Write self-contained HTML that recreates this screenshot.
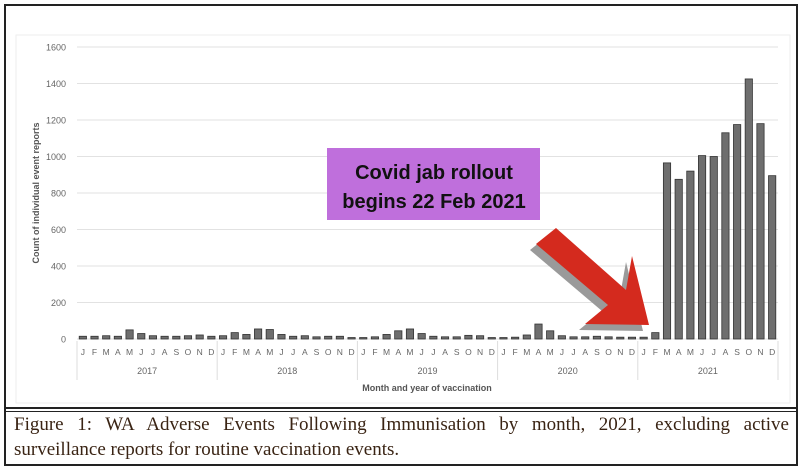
<!DOCTYPE html>
<html><head><meta charset="utf-8"><style>
body{margin:0;background:#fff;width:801px;height:468px;overflow:hidden;font-family:"Liberation Sans",sans-serif}
#frame{position:absolute;left:4px;top:4px;width:790px;height:458px;border:2px solid #222}
#sep{position:absolute;left:4px;top:407px;width:794px;height:2px;border-top:2px solid #222;border-bottom:1px solid #222}
#cap{position:absolute;left:14px;top:412px;width:775px;font-family:"Liberation Serif",serif;font-size:19px;line-height:25px;color:#3a2414}
#cap .l1{display:block;text-align:justify;text-align-last:justify;white-space:nowrap}
#cap .l2{display:block}
</style></head><body>
<div id="frame"></div>
<svg id="chart" width="801" height="408" style="position:absolute;left:0;top:0"></svg>
<div id="sep"></div>
<div id="cap"><span class="l1">Figure 1: WA Adverse Events Following Immunisation by month, 2021, excluding active</span><span class="l2">surveillance reports for routine vaccination events.</span></div>
<script>
const years=["2017","2018","2019","2020","2021"];
const months=["J","F","M","A","M","J","J","A","S","O","N","D"];
const yTicks=[0,200,400,600,800,1000,1200,1400,1600];
const values=[15,15,18,15,50,30,18,15,15,18,22,15,
18,35,25,55,52,25,15,18,12,15,15,8,
8,12,25,45,55,30,15,12,12,20,18,8,
8,10,22,82,45,18,12,12,15,12,10,10,
10,35,965,875,920,1005,1000,1130,1175,1425,1180,895];
const svg=document.getElementById('chart');const NS='http://www.w3.org/2000/svg';
function mk(t,a,txt){const e=document.createElementNS(NS,t);for(const k in a)e.setAttribute(k,a[k]);if(txt!==undefined)e.textContent=txt;svg.appendChild(e);return e;}
const x0=77,x1=778,yb=339,yt=47;
const ys=v=>yb-(v/1600)*(yb-yt);
const n=values.length,slot=(x1-x0)/n;
const xs=i=>x0+i*slot;
let e=mk('rect',{x:16,y:35,width:774,height:368,fill:'none',stroke:'#eee'});


yTicks.forEach(t=>{
 let g=mk('line',{x1:x0,x2:x1,y1:ys(t),y2:ys(t),stroke:'#e2e2e2','stroke-width':1});
 
 
 let l=mk('text',{x:66,y:ys(t)+3.5,'text-anchor':'end','font-size':9,fill:'#666'},t);
 
 
});
values.forEach((v,i)=>{
 let b=mk('rect',{x:xs(i)+2.2,y:ys(v),width:slot-4.4,height:yb-ys(v),fill:'#6e6e6e',stroke:'#333','stroke-width':0.8});
 
 
 let m=mk('text',{x:xs(i)+slot/2,y:355,'text-anchor':'middle','font-size':8.5,fill:'#666'},months[i%12]);
 
 
});
years.forEach((y,k)=>{
 const xa=xs(k*12);
 let s=mk('line',{x1:xa,x2:xa,y1:341,y2:380,stroke:'#ddd'});
 
 
 let t=mk('text',{x:xa+6*slot,y:374,'text-anchor':'middle','font-size':9,fill:'#666'},y);
 
 
});
let s2=mk('line',{x1:x1,x2:x1,y1:341,y2:380,stroke:'#ddd'});


let xt=mk('text',{x:427,y:391,'text-anchor':'middle','font-size':9,'font-weight':'bold',fill:'#555'},'Month and year of vaccination');


let yt2=mk('text',{x:0,y:0,'text-anchor':'middle','font-size':9,'font-weight':'bold',fill:'#555',transform:'translate(39,193) rotate(-90)'},'Count of individual event reports');


let box=mk('rect',{x:327,y:148,width:213,height:72,fill:'#bf6fdc'});


let a1=mk('text',{x:434,y:179,'text-anchor':'middle','font-size':20,'font-weight':'bold',fill:'#111'},'Covid jab rollout');


let a2=mk('text',{x:434,y:208,'text-anchor':'middle','font-size':20,'font-weight':'bold',fill:'#111'},'begins 22 Feb 2021');


const arrowPts="556,228 626,290 632,256 649,325 585,324 608,305 536,244";
let sh=mk('polygon',{points:arrowPts,fill:'#9a9a9a',transform:'translate(-6,6)'});


let ar=mk('polygon',{points:arrowPts,fill:'#d42a1e'});


</script>
</body></html>
